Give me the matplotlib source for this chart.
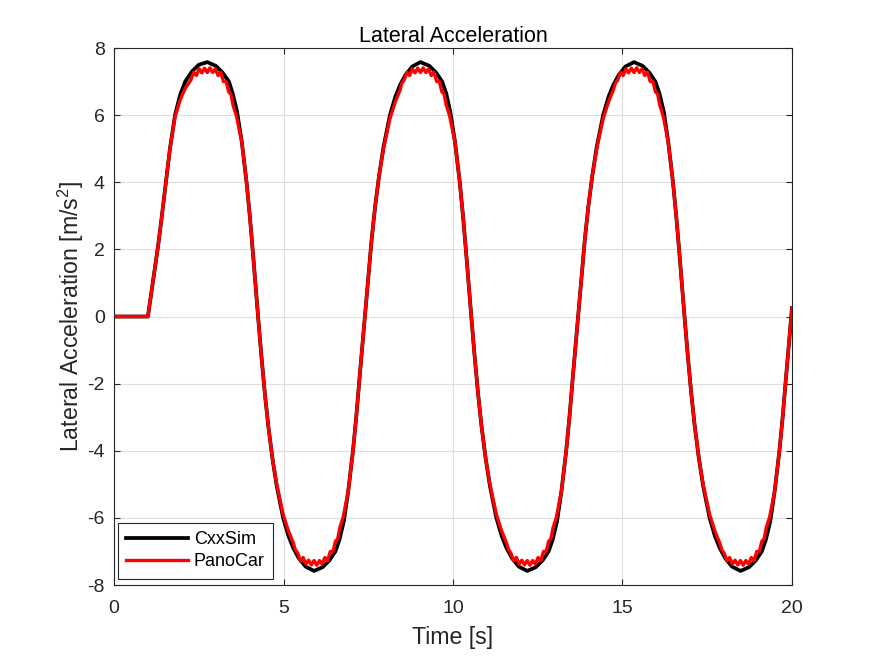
import matplotlib
matplotlib.use("Agg")
import matplotlib.pyplot as plt

plt.rcParams['font.family'] = ['Liberation Sans', 'DejaVu Sans']
plt.rcParams['mathtext.default'] = 'regular'
plt.rcParams['axes.unicode_minus'] = False

# ---- data ----
cxx_t = [0.0, 1.0, 1.1, 1.2, 1.3, 1.4, 1.53, 1.65, 1.8, 1.95, 2.1, 2.3, 2.5, 2.75,
         3.0, 3.2, 3.39, 3.5, 3.63, 3.77, 3.91, 4.01, 4.11, 4.25,
         4.35, 4.45, 4.55, 4.67, 4.80, 4.99, 5.15, 5.29, 5.45, 5.65, 5.90,
         6.15, 6.35, 6.53, 6.65, 6.78, 6.91, 7.05, 7.15, 7.25, 7.40,
         7.50, 7.60, 7.70, 7.82, 7.95, 8.14, 8.30, 8.44, 8.60, 8.80, 9.04,
         9.30, 9.50, 9.68, 9.80, 9.92, 10.06, 10.20, 10.30, 10.40, 10.54,
         10.64, 10.74, 10.84, 10.96, 11.09, 11.28, 11.44, 11.58, 11.74, 11.94, 12.19,
         12.44, 12.64, 12.82, 12.94, 13.07, 13.20, 13.34, 13.44, 13.54, 13.69,
         13.79, 13.89, 13.99, 14.11, 14.24, 14.43, 14.59, 14.73, 14.89, 15.09, 15.34,
         15.59, 15.79, 15.97, 16.09, 16.22, 16.35, 16.49, 16.59, 16.69, 16.83,
         16.93, 17.03, 17.13, 17.25, 17.38, 17.57, 17.73, 17.87, 18.03, 18.23, 18.48,
         18.73, 18.93, 19.11, 19.23, 19.36, 19.49, 19.63, 19.73, 19.83, 19.98, 20.0]
cxx_v = [0.0, 0.0, 0.7, 1.4, 2.1, 2.9, 4.0, 5.0, 6.0, 6.6, 7.0, 7.3, 7.5, 7.58,
         7.47, 7.27, 7.0, 6.65, 6.1, 5.2, 4.0, 2.95, 1.75, 0.0,
         -1.2, -2.3, -3.25, -4.2, -5.05, -6.0, -6.55, -6.9, -7.2, -7.45, -7.58,
         -7.47, -7.27, -7.0, -6.65, -6.1, -5.2, -4.0, -2.95, -1.75, 0.0,
         1.2, 2.3, 3.25, 4.2, 5.05, 6.0, 6.55, 6.9, 7.2, 7.45, 7.58,
         7.47, 7.27, 7.0, 6.65, 6.1, 5.2, 4.0, 2.95, 1.75, 0.0,
         -1.2, -2.3, -3.25, -4.2, -5.05, -6.0, -6.55, -6.9, -7.2, -7.45, -7.58,
         -7.47, -7.27, -7.0, -6.65, -6.1, -5.2, -4.0, -2.95, -1.75, 0.0,
         1.2, 2.3, 3.25, 4.2, 5.05, 6.0, 6.55, 6.9, 7.2, 7.45, 7.58,
         7.47, 7.27, 7.0, 6.65, 6.1, 5.2, 4.0, 2.95, 1.75, 0.0,
         -1.2, -2.3, -3.25, -4.2, -5.05, -6.0, -6.55, -6.9, -7.2, -7.45, -7.58,
         -7.47, -7.27, -7.0, -6.65, -6.1, -5.2, -4.0, -2.95, -1.75, 0.0, 0.25]

pano_t = [0.0, 1.0, 1.1, 1.2, 1.3, 1.4, 1.53, 1.65, 1.8, 1.95, 2.1, 2.2,
          2.27, 2.35, 2.43, 2.51, 2.59, 2.67, 2.75, 2.83, 2.91, 2.99, 3.07, 3.15, 3.23,
          3.31, 3.38, 3.45, 3.51, 3.61, 3.77, 3.91, 4.01, 4.11, 4.25,
          4.35, 4.45, 4.55, 4.67, 4.80, 4.99, 5.15, 5.29, 5.35,
          5.42, 5.50, 5.58, 5.66, 5.74, 5.82, 5.90, 5.98, 6.06, 6.14, 6.22, 6.30, 6.38,
          6.46, 6.53, 6.60, 6.66, 6.76, 6.91, 7.05, 7.15, 7.25, 7.40,
          7.50, 7.60, 7.70, 7.82, 7.95, 8.14, 8.30, 8.44, 8.49,
          8.56, 8.64, 8.72, 8.80, 8.88, 8.96, 9.04, 9.12, 9.20, 9.28, 9.36, 9.44, 9.52,
          9.60, 9.67, 9.74, 9.80, 9.90, 10.06, 10.20, 10.30, 10.40, 10.54,
          10.64, 10.74, 10.84, 10.96, 11.09, 11.28, 11.44, 11.58, 11.64,
          11.71, 11.79, 11.87, 11.95, 12.03, 12.11, 12.19, 12.27, 12.35, 12.43, 12.51, 12.59, 12.67,
          12.75, 12.82, 12.89, 12.95, 13.05, 13.20, 13.34, 13.44, 13.54, 13.69,
          13.79, 13.89, 13.99, 14.11, 14.24, 14.43, 14.59, 14.73, 14.79,
          14.86, 14.94, 15.02, 15.10, 15.18, 15.26, 15.34, 15.42, 15.50, 15.58, 15.66, 15.74, 15.82,
          15.90, 15.97, 16.04, 16.10, 16.20, 16.35, 16.49, 16.59, 16.69, 16.83,
          16.93, 17.03, 17.13, 17.25, 17.38, 17.57, 17.73, 17.87, 17.93,
          18.00, 18.08, 18.16, 18.24, 18.32, 18.40, 18.48, 18.56, 18.64, 18.72, 18.80, 18.88, 18.96,
          19.04, 19.11, 19.18, 19.24, 19.34, 19.49, 19.63, 19.73, 19.83, 19.98, 20.0]
pano_v = [0.0, 0.0, 0.7, 1.4, 2.1, 2.9, 4.0, 5.0, 5.95, 6.45, 6.8, 6.95,
          7.05, 7.28, 7.18, 7.38, 7.26, 7.40, 7.27, 7.41, 7.27, 7.38, 7.18, 7.28, 7.00,
          7.0, 6.7, 6.62, 6.3, 5.98, 5.2, 4.0, 2.95, 1.75, 0.0,
          -1.2, -2.3, -3.25, -4.2, -5.0, -5.9, -6.4, -6.75, -6.95,
          -7.05, -7.28, -7.18, -7.38, -7.26, -7.40, -7.27, -7.41, -7.27, -7.38, -7.18, -7.28, -7.00,
          -7.0, -6.7, -6.62, -6.3, -5.98, -5.2, -4.0, -2.95, -1.75, 0.0,
          1.2, 2.3, 3.25, 4.2, 5.0, 5.9, 6.4, 6.75, 6.95,
          7.05, 7.28, 7.18, 7.38, 7.26, 7.40, 7.27, 7.41, 7.27, 7.38, 7.18, 7.28, 7.00,
          7.0, 6.7, 6.62, 6.3, 5.98, 5.2, 4.0, 2.95, 1.75, 0.0,
          -1.2, -2.3, -3.25, -4.2, -5.0, -5.9, -6.4, -6.75, -6.95,
          -7.05, -7.28, -7.18, -7.38, -7.26, -7.40, -7.27, -7.41, -7.27, -7.38, -7.18, -7.28, -7.00,
          -7.0, -6.7, -6.62, -6.3, -5.98, -5.2, -4.0, -2.95, -1.75, 0.0,
          1.2, 2.3, 3.25, 4.2, 5.0, 5.9, 6.4, 6.75, 6.95,
          7.05, 7.28, 7.18, 7.38, 7.26, 7.40, 7.27, 7.41, 7.27, 7.38, 7.18, 7.28, 7.00,
          7.0, 6.7, 6.62, 6.3, 5.98, 5.2, 4.0, 2.95, 1.75, 0.0,
          -1.2, -2.3, -3.25, -4.2, -5.0, -5.9, -6.4, -6.75, -6.95,
          -7.05, -7.28, -7.18, -7.38, -7.26, -7.40, -7.27, -7.41, -7.27, -7.38, -7.18, -7.28, -7.00,
          -7.0, -6.7, -6.62, -6.3, -5.98, -5.2, -4.0, -2.95, -1.75, 0.0, 0.25]

series_names = ['CxxSim', 'PanoCar']
x_ticks = [0, 5, 10, 15, 20]
y_ticks = [-8, -6, -4, -2, 0, 2, 4, 6, 8]

# ---- figure ----
fig = plt.figure(figsize=(8.75, 6.56), dpi=100)
ax = fig.add_axes([0.1303, 0.1082, 0.7748, 0.8186])

ax.plot(cxx_t, cxx_v, color='black', lw=2.7, label=series_names[0], solid_joinstyle='round')
ax.plot(pano_t, pano_v, color='#ff0000', lw=2.4, label=series_names[1], solid_joinstyle='round')

ax.set_xlim(0, 20)
ax.set_ylim(-8, 8)
ax.set_xticks(x_ticks)
ax.set_yticks(y_ticks)
ax.grid(True, color='#dedede', lw=0.8)
ax.set_axisbelow(True)

for s in ax.spines.values():
    s.set_color('#262626')
    s.set_linewidth(0.8)
ax.tick_params(direction='in', length=4.5, width=0.8, colors='#262626',
               top=True, right=True, labelsize=14, labelcolor='#262626')
ax.tick_params(axis='x', pad=10.5)
ax.tick_params(axis='y', pad=6.5)

ax.set_title('Lateral Acceleration', fontsize=15.5, color='black', pad=4.5)
ax.set_xlabel('Time [s]', fontsize=16.7, color='#262626', labelpad=6.5)
ax.set_ylabel('Lateral Acceleration [m/s$^2$]', fontsize=16.7, color='#262626', labelpad=1)

leg = ax.legend(loc='lower left', bbox_to_anchor=(0.006, 0.012), fontsize=13,
                fancybox=False, framealpha=1, edgecolor='#262626', handlelength=3.4,
                handletextpad=0.35, borderpad=0.45, labelspacing=0.3, borderaxespad=0)
leg.get_frame().set_linewidth(0.8)

fig.savefig('out.png', dpi=100)
